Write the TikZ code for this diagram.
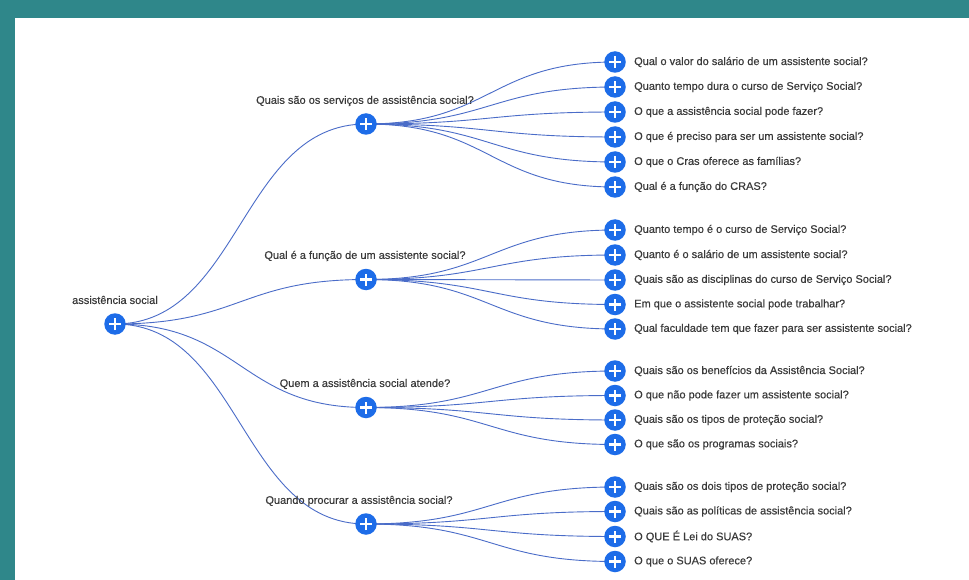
\documentclass[tikz,border=0pt]{standalone}
\usepackage{fontspec}
\setmainfont{Liberation Sans}[BoldFont={Liberation Sans},BoldFeatures={FakeBold=0.35}]
\pgfdeclarelayer{bg}
\pgfdeclarelayer{edges}
\pgfsetlayers{bg,edges,main}
\definecolor{teal1}{HTML}{2F878A}
\definecolor{nodeblue}{HTML}{1D6CE8}
\definecolor{edgeblue}{HTML}{4A6CC8}
\definecolor{txt}{HTML}{3A3A3A}
\tikzset{
  plusnode/.style={circle, fill=nodeblue, draw=none, minimum size=21.5pt, inner sep=0pt,
    path picture={
      \draw[white, line width=2.8pt] ([xshift=-6pt]path picture bounding box.center) -- ([xshift=6pt]path picture bounding box.center);
      \draw[white, line width=2.8pt] ([yshift=-6pt]path picture bounding box.center) -- ([yshift=6pt]path picture bounding box.center);
    }},
  leaftext/.style={anchor=west, inner sep=0pt, text=txt, font=\fontsize{11}{13}\selectfont\bfseries},
  midtext/.style={anchor=center, inner sep=0pt, text=txt, font=\fontsize{11}{13}\selectfont\bfseries},
  edge/.style={draw=edgeblue, line width=0.9pt},
}
\newcommand{\leafnode}[4]{%
  \node[plusnode] (#1) at (615,#2) {};
  \node[leaftext] (#1t) at (634,#2) {#3};
  \begin{pgfonlayer}{edges}
  \draw[edge] (#4.center) .. controls +(124.5,0) and +(-124.5,0) .. (#1.center);
  \end{pgfonlayer}
}
\begin{document}
\begin{tikzpicture}[x=1pt,y=-1pt]
\begin{pgfonlayer}{bg}
\fill[teal1] (0,0) rectangle (969,580);
\fill[white] (15,18) rectangle (969,580);
\end{pgfonlayer}
\useasboundingbox (0,0) rectangle (969,580);

% root
\node[plusnode] (root) at (115,324) {};
\node[midtext] (roott) at (115,300) {assistência social};

% level 1
\node[plusnode] (a) at (366,124) {};
\node[midtext] (at) at (365,101) {Quais são os serviços de assistência social?};
\node[plusnode] (b) at (366,279.5) {};
\node[midtext] (bt) at (365,256) {Qual é a função de um assistente social?};
\node[plusnode] (c) at (366,407.5) {};
\node[midtext] (ct) at (365,384) {Quem a assistência social atende?};
\node[plusnode] (d) at (366,524) {};
\node[midtext] (dt) at (359,501) {Quando procurar a assistência social?};

\begin{pgfonlayer}{edges}
\foreach \n in {a,b,c,d}
  \draw[edge] (root.center) .. controls +(125.5,0) and +(-125.5,0) .. (\n.center);
\end{pgfonlayer}

% group a
\leafnode{a1}{62}{Qual o valor do salário de um assistente social?}{a}
\leafnode{a2}{87}{Quanto tempo dura o curso de Serviço Social?}{a}
\leafnode{a3}{112}{O que a assistência social pode fazer?}{a}
\leafnode{a4}{137}{O que é preciso para ser um assistente social?}{a}
\leafnode{a5}{162}{O que o Cras oferece as famílias?}{a}
\leafnode{a6}{187}{Qual é a função do CRAS?}{a}
% group b
\leafnode{b1}{230}{Quanto tempo é o curso de Serviço Social?}{b}
\leafnode{b2}{255}{Quanto é o salário de um assistente social?}{b}
\leafnode{b3}{280}{Quais são as disciplinas do curso de Serviço Social?}{b}
\leafnode{b4}{304.5}{Em que o assistente social pode trabalhar?}{b}
\leafnode{b5}{329}{Qual faculdade tem que fazer para ser assistente social?}{b}
% group c
\leafnode{c1}{371}{Quais são os benefícios da Assistência Social?}{c}
\leafnode{c2}{395.5}{O que não pode fazer um assistente social?}{c}
\leafnode{c3}{420}{Quais são os tipos de proteção social?}{c}
\leafnode{c4}{444.5}{O que são os programas sociais?}{c}
% group d
\leafnode{d1}{487}{Quais são os dois tipos de proteção social?}{d}
\leafnode{d2}{511.5}{Quais são as políticas de assistência social?}{d}
\leafnode{d3}{536.5}{O QUE É Lei do SUAS?}{d}
\leafnode{d4}{561.5}{O que o SUAS oferece?}{d}
\end{tikzpicture}
\end{document}
